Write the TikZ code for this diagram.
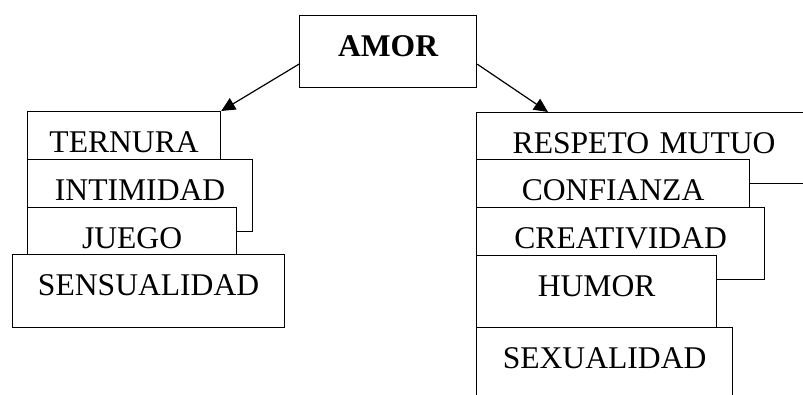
\documentclass[tikz,border=0pt]{standalone}
\usepackage{fontspec}
\setmainfont{Liberation Serif}
\usetikzlibrary{arrows.meta}
\begin{document}
\begin{tikzpicture}[x=1pt,y=-1pt,
    caja/.style={draw, fill=white, line width=1.2pt, inner sep=0pt, anchor=north west,
      align=center, text height=41pt, font=\fontsize{31.6}{38}\selectfont},
    flecha/.style={line width=1.2pt, -{Triangle[length=14pt,width=13pt]}}]
    \useasboundingbox (0,0) rectangle (803,394);
    \clip (0,0) rectangle (803,394);
    \node[caja, text width=177pt, text depth=31pt, font=\fontsize{31.6}{38}\selectfont\bfseries] (amor) at (299,15) {AMOR};
    % izquierda
    \foreach \n/\x/\y/\w/\d/\t in {ternura/27/111/193/7/TERNURA, intimidad/27/159/225/31/INTIMIDAD,
        juego/27/207/209/6/JUEGO, sensualidad/12/254/272/32/SENSUALIDAD} {
        \node[caja, text width=\w pt, text depth=\d pt] (\n) at (\x,\y) {\t};
    }
    % derecha
    \foreach \n/\x/\y/\w/\d/\t in {respeto/476/112/335/30/RESPETO MUTUO, confianza/476/159/273/7/CONFIANZA,
        creatividad/476/207/288/31/CREATIVIDAD, humor/476/255/240/31/HUMOR, sexualidad/476/327/256/39/SEXUALIDAD} {
        \node[caja, text width=\w pt, text depth=\d pt] (\n) at (\x,\y) {\t};
    }
    \draw[flecha] (amor.188) -- (ternura.north east);
    \draw[flecha] (amor.352) -- ([xshift=72pt]respeto.north west);
\end{tikzpicture}
\end{document}
